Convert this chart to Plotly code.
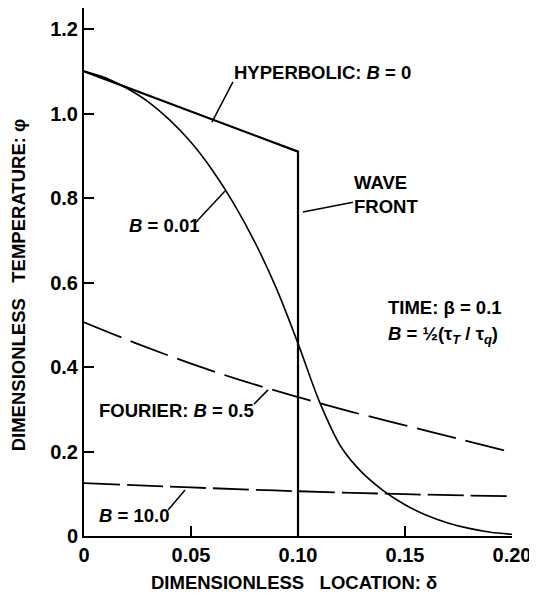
import plotly.graph_objects as go

# ---- data ----
hyper_x = [0.0, 0.10, 0.10]
hyper_y = [1.10, 0.91, 0.0]

b001_x = [0.0, 0.01, 0.02, 0.03, 0.04, 0.05, 0.06, 0.07, 0.08, 0.09, 0.10, 0.11,
          0.12, 0.13, 0.14, 0.15, 0.16, 0.17, 0.18, 0.19, 0.20]
b001_y = [1.100, 1.085, 1.060, 1.028, 0.985, 0.932, 0.866, 0.787, 0.694, 0.585, 0.456,
          0.318, 0.212, 0.150, 0.107, 0.074, 0.049, 0.031, 0.018, 0.009, 0.004]

fourier_x = [0.0, 0.025, 0.05, 0.075, 0.10, 0.125, 0.15, 0.175, 0.20]
fourier_y = [0.506, 0.455, 0.408, 0.366, 0.329, 0.294, 0.262, 0.230, 0.198]

b10_x = [0.0, 0.05, 0.10, 0.15, 0.20]
b10_y = [0.125, 0.115, 0.106, 0.099, 0.094]

x_ticks = [0, 0.05, 0.10, 0.15, 0.20]
x_ticktext = ["0", "0.05", "0.10", "0.15", "0.20"]
y_ticks = [0, 0.2, 0.4, 0.6, 0.8, 1.0, 1.2]
y_ticktext = ["0", "0.2", "0.4", "0.6", "0.8", "1.0", "1.2"]

FONT = "Liberation Sans"

fig = go.Figure()
fig.add_trace(go.Scatter(x=hyper_x, y=hyper_y, mode="lines",
                         line=dict(color="black", width=2.2)))
fig.add_trace(go.Scatter(x=b001_x, y=b001_y, mode="lines", line_shape="spline",
                         line=dict(color="black", width=1.6, smoothing=0.8)))
fig.add_trace(go.Scatter(x=fourier_x, y=fourier_y, mode="lines", line_shape="spline",
                         line=dict(color="black", width=1.8, dash="40px,10px")))
fig.add_trace(go.Scatter(x=b10_x, y=b10_y, mode="lines", line_shape="spline",
                         line=dict(color="black", width=1.8, dash="36px,7px")))

# leader lines (data coords)
leaders = [
    (0.0696, 1.075, 0.0598, 0.980),
    (0.0523, 0.743, 0.0659, 0.817),
    (0.1023, 0.767, 0.1257, 0.790),
    (0.0794, 0.312, 0.0860, 0.346),
    (0.0393, 0.0615, 0.0472, 0.109),
]
for x0, y0, x1, y1 in leaders:
    fig.add_shape(type="line", xref="x", yref="y", x0=x0, y0=y0, x1=x1, y1=y1,
                  line=dict(color="black", width=1.5))

ann_font = dict(family=FONT, size=18.5, color="black")
labels = [
    (0.0690, 1.098, "<b>HYPERBOLIC: <i>B</i> = 0</b>"),
    (0.1250, 0.809, "<b>WAVE<br>FRONT</b>"),
    (0.020, 0.736, "<b><i>B</i> = 0.01</b>"),
    (0.1410, 0.542, "<b>TIME: β = 0.1</b>"),
    (0.1410, 0.476, "<b><i>B</i> = ½(τ<sub><i>T</i></sub> / τ<sub><i>q</i></sub>)</b>"),
    (0.006, 0.298, "<b>FOURIER: <i>B</i> = 0.5</b>"),
    (0.0060, 0.0497, "<b><i>B</i> = 10.0</b>"),
]
for x, y, t in labels:
    fig.add_annotation(x=x, y=y, xref="x", yref="y", text=t, showarrow=False,
                       xanchor="left", yanchor="middle", align="left", font=ann_font)

# axis titles
fig.add_annotation(xref="paper", yref="paper", x=0.49, y=-0.089,
                   text="<b>DIMENSIONLESS\u00a0\u00a0 LOCATION: δ</b>", showarrow=False,
                   xanchor="center", yanchor="middle", font=ann_font)
fig.add_annotation(xref="paper", yref="paper", x=-0.154, y=0.475, textangle=-90,
                   text="<b>DIMENSIONLESS\u00a0\u00a0 TEMPERATURE: φ</b>", showarrow=False,
                   xanchor="center", yanchor="middle", font=ann_font)

tick_font = dict(family=FONT, size=20, color="black")
fig.update_layout(
    width=529, height=596,
    margin=dict(l=76, r=25, t=0, b=68),
    paper_bgcolor="white", plot_bgcolor="white",
    showlegend=False,
    font=dict(family=FONT, color="black"),
)
fig.update_xaxes(range=[0, 0.2], tickvals=x_ticks,
                 ticktext=["<b>%s</b>" % t for t in x_ticktext],
                 ticks="inside", ticklen=10, tickwidth=1.5, tickcolor="black",
                 showline=True, linecolor="black", linewidth=2, showgrid=False,
                 zeroline=False, tickfont=tick_font)
fig.update_yaxes(range=[0, 1.25], tickvals=y_ticks,
                 ticktext=["<b>%s</b>" % t for t in y_ticktext],
                 ticks="inside", ticklen=10, tickwidth=1.5, tickcolor="black",
                 showline=True, linecolor="black", linewidth=2, showgrid=False,
                 zeroline=False, tickfont=tick_font)

fig.write_html("out.html")
